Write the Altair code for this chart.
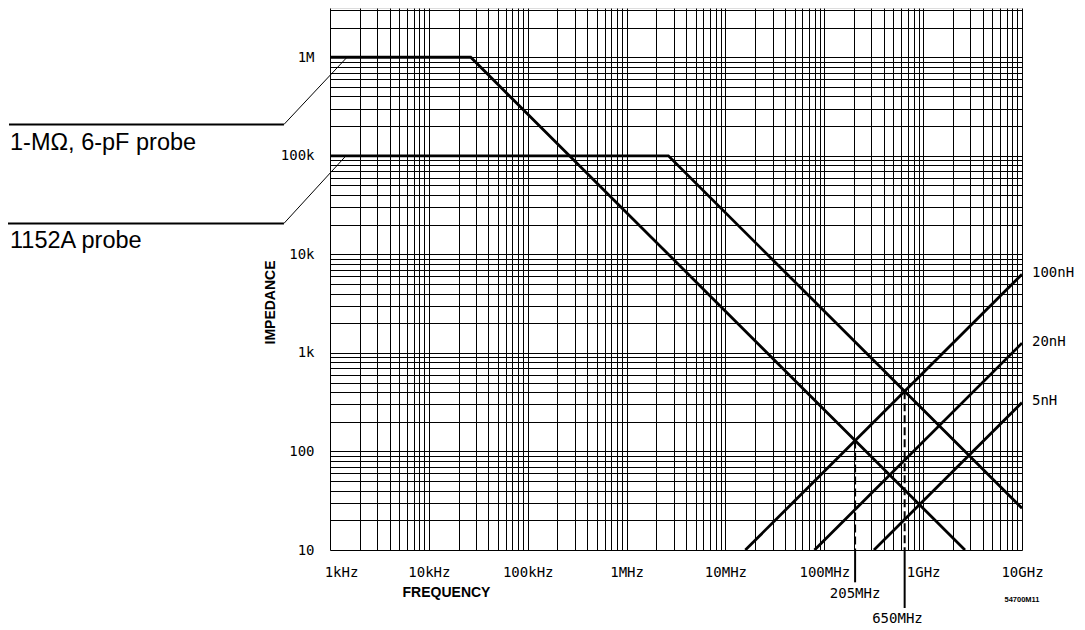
import altair as alt
import pandas as pd

# ---------------- data ----------------
freq_ticks = [10**3, 10**4, 10**5, 10**6, 10**7, 10**8, 10**9, 10**10]
freq_labels = ["1kHz", "10kHz", "100kHz", "1MHz", "10MHz", "100MHz", "1GHz", "10GHz"]
imp_ticks = [10, 100, 10**3, 10**4, 10**5, 10**6]
imp_labels = ["10", "100", "1k", "10k", "100k", "1M"]

# probe impedance curves (breakpoints)
probe1_freq = [1e3, 2.65e4, 2.65e9]
probe1_imp = [1e6, 1e6, 10]
probe2_freq = [1e3, 2.65e6, 1e10]
probe2_imp = [1e5, 1e5, 26.5]

# inductive reactance lines
ind_names = ["100nH", "20nH", "5nH"]
ind_freq_start = [1.59e7, 7.96e7, 3.18e8]
ind_imp_start = [10, 10, 10]
ind_freq_end = [1e10, 1e10, 1e10]
ind_imp_end = [6283, 1257, 314]

# resonance markers
mark_names = ["205MHz", "650MHz"]
mark_freq = [2.05e8, 6.5e8]
mark_imp = [129, 408]

probe_names = ["1-M\u03a9, 6-pF probe", "1152A probe"]
note_text = "54700M11"

# ---------------- tables ----------------
rows = []
for i, (f, z) in enumerate(zip(probe1_freq, probe1_imp)):
    rows.append({"series": "p1", "order": i, "freq": f, "imp": z})
for i, (f, z) in enumerate(zip(probe2_freq, probe2_imp)):
    rows.append({"series": "p2", "order": i, "freq": f, "imp": z})
for n, f0, z0, f1, z1 in zip(ind_names, ind_freq_start, ind_imp_start, ind_freq_end, ind_imp_end):
    rows.append({"series": n, "order": 0, "freq": f0, "imp": z0})
    rows.append({"series": n, "order": 1, "freq": f1, "imp": z1})
curves = pd.DataFrame(rows)

ind_end = pd.DataFrame({"name": ind_names, "freq": ind_freq_end, "imp": ind_imp_end})

y_floor = imp_ticks[0]
markers = pd.DataFrame({
    "name": mark_names,
    "freq": mark_freq,
    "imp": mark_imp,
    "floor": [y_floor, y_floor],
    "ext": [4.7, 2.58],          # how far the solid part reaches below the axis
    "label_x": [2.05e8, 5.5e8],  # label anchor
    "label_y": [3.58, 1.99],
})

# leader lines of the probe labels (in data coordinates, outside the plot)
leaders = pd.DataFrame({
    "x0": [0.566, 0.54],
    "xk": [342, 342],
    "xe": [1486, 1450],
    "yk": [2.08e5, 2.06e4],
    "ye": [probe1_imp[0], probe2_imp[0]],
})
probe_text = pd.DataFrame({
    "text": probe_names,
    "freq": [0.58, 0.58],
    "imp": [1.146e5, 1.16e4],
})
note = pd.DataFrame({"text": [note_text], "freq": [1e10], "imp": [3.1]})

# ---------------- axes ----------------
x_values = [m * 10**k for k in range(3, 10) for m in range(1, 10)] + [10**10]
y_values = [m * 10**k for k in range(1, 7) for m in range(1, 10) if m * 10**k <= 3.16e6]

x_expr = " : ".join(f"datum.value == {v} ? '{l}'" for v, l in zip(freq_ticks, freq_labels)) + " : ''"
y_expr = " : ".join(f"datum.value == {v} ? '{l}'" for v, l in zip(imp_ticks, imp_labels)) + " : ''"

MONO = "DejaVu Sans Mono"
MONO_SIZE = 14
SANS = "Liberation Sans"

xscale = alt.Scale(type="log", domain=[1e3, 1e10], nice=False)
yscale = alt.Scale(type="log", domain=[10, 10**6.5], nice=False)

x_axis = alt.Axis(
    values=x_values, labelExpr=x_expr, grid=True, gridColor="black", gridOpacity=1,
    gridWidth=1, ticks=False, domain=False, labelFont=MONO, labelFontSize=MONO_SIZE,
    labelColor="black", labelPadding=22, labelBaseline="middle", labelAngle=0,
    labelOverlap=False, labelBound=False, labelFlush=False,
    labelOffset={"condition": {"test": f"datum.value == {freq_ticks[0]}", "value": 11}, "value": 0},
    title="FREQUENCY", titleFont=SANS, titleFontWeight="bold", titleFontSize=14,
    titleColor="black", titleX=116, titleY=42, titleAlign="center", titleBaseline="middle",
)
y_axis = alt.Axis(
    values=y_values, labelExpr=y_expr, grid=True, gridColor="black", gridOpacity=1,
    gridWidth=1, ticks=False, domain=False, labelFont=MONO, labelFontSize=MONO_SIZE,
    labelColor="black", labelPadding=16, labelBaseline="middle",
    labelOverlap=False, labelBound=False, labelFlush=False,
    title="IMPEDANCE", titleFont=SANS, titleFontWeight="bold", titleFontSize=14,
    titleColor="black", titleX=-60, titleY=294, titleAlign="center", titleBaseline="middle",
    titleAngle=270,
)

X = alt.X("freq:Q", scale=xscale, axis=x_axis)
Y = alt.Y("imp:Q", scale=yscale, axis=y_axis)

lines = alt.Chart(curves).mark_line(color="black", strokeWidth=2.8, clip=True).encode(
    x=X, y=Y, detail="series:N", order="order:Q"
)

ind_labels = alt.Chart(ind_end).mark_text(
    align="left", baseline="middle", dx=10, dy=-1, font=MONO, fontSize=MONO_SIZE, color="black"
).encode(x=alt.X("freq:Q", scale=xscale), y=alt.Y("imp:Q", scale=yscale), text="name:N")

dashed = alt.Chart(markers).mark_rule(color="black", strokeWidth=2, strokeDash=[8, 4]).encode(
    x=alt.X("freq:Q", scale=xscale), y=alt.Y("imp:Q", scale=yscale), y2="floor:Q"
)
solid = alt.Chart(markers).mark_rule(color="black", strokeWidth=2).encode(
    x=alt.X("freq:Q", scale=xscale), y=alt.Y("floor:Q", scale=yscale), y2="ext:Q"
)
mark_labels = alt.Chart(markers).mark_text(
    align="center", baseline="middle", font=MONO, fontSize=MONO_SIZE, color="black"
).encode(
    x=alt.X("label_x:Q", scale=xscale), y=alt.Y("label_y:Q", scale=yscale), text="name:N",
)

lead_h = alt.Chart(leaders).mark_rule(color="black", strokeWidth=2).encode(
    x=alt.X("x0:Q", scale=xscale), x2="xk:Q", y=alt.Y("yk:Q", scale=yscale)
)
lead_d = alt.Chart(leaders).mark_rule(color="black", strokeWidth=1).encode(
    x=alt.X("xk:Q", scale=xscale), x2="xe:Q", y=alt.Y("yk:Q", scale=yscale), y2="ye:Q"
)
probe_labels = alt.Chart(probe_text).mark_text(
    align="left", baseline="alphabetic", font=SANS, fontSize=23.5, color="black"
).encode(x=alt.X("freq:Q", scale=xscale), y=alt.Y("imp:Q", scale=yscale), text="text:N")

note_mark = alt.Chart(note).mark_text(
    align="center", baseline="middle", font=SANS, fontSize=7.5, fontWeight="bold", color="black"
).encode(x=alt.X("freq:Q", scale=xscale), y=alt.Y("imp:Q", scale=yscale), text="text:N")

chart = alt.layer(
    lines, dashed, solid, mark_labels, ind_labels, lead_h, lead_d, probe_labels, note_mark
).properties(
    width=692, height=542,
    autosize=alt.AutoSizeParams(type="none"),
    padding={"left": 322, "top": 0, "right": 55, "bottom": 78},
).configure_view(stroke="black", strokeWidth=2.5).configure(background="white")

chart.save("out.html", embed_options={"renderer": "svg", "actions": False})
